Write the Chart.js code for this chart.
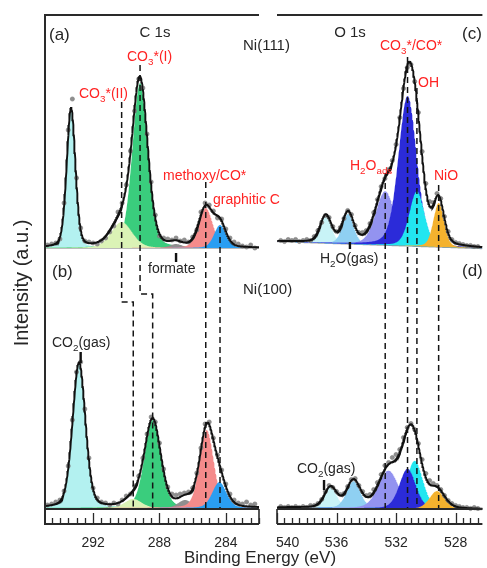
<!DOCTYPE html>
<html>
<head>
<meta charset="utf-8">
<script src="https://cdn.jsdelivr.net/npm/chart.js@4.4.1/dist/chart.umd.min.js"></script>
<style>
  html, body { margin: 0; padding: 0; background: #fff; }
  #wrap { position: relative; width: 487px; height: 568px; }
  #wrap canvas { position: absolute; left: 0; top: 0; }
</style>
</head>
<body>
<div id="wrap">
  <canvas id="c1s" width="487" height="568"></canvas>
  <canvas id="o1s" width="487" height="568"></canvas>
</div>
<script>
// ---------------- measured points ----------------
const energyC = [294.75, 294.5, 294.25, 294, 293.75, 293.5, 293.25, 293, 292.75, 292.5, 292.25, 292,
  291.75, 291.5, 291.25, 291, 290.75, 290.5, 290.25, 290, 289.75, 289.5, 289.25, 289, 288.75, 288.5,
  288.25, 288, 287.75, 287.5, 287.25, 287, 286.75, 286.5, 286.25, 286, 285.75, 285.5, 285.25, 285,
  284.75, 284.5, 284.25, 284, 283.75, 283.5, 283.25, 283, 282.75, 282.5, 282.25];
const measuredC111 = [3, 4, 5, 9, 45, 118, 149, 70, 20, 7, 6, 5, 4, 7, 10, 16, 22, 36, 45, 63, 97, 137,
  169, 160, 114, 66, 33, 12, 10, 9, 8, 10, 7, 8, 6, 11, 18, 36, 45, 43, 37, 30, 29, 19, 10, 6, 4, 2, 1, 3, 0];
const measuredC100 = [3, 4, 6, 8, 17, 42, 88, 136, 146, 99, 50, 20, 10, 6, 5, 3, 5, 4, 8, 12, 14, 22,
  32, 50, 74, 91, 86, 65, 39, 21, 14, 13, 14, 15, 16, 20, 35, 60, 84, 86, 70, 53, 38, 24, 14, 8, 5, 4, 6, 3, 4];

const energyO = [539.75, 539.5, 539.25, 539, 538.75, 538.5, 538.25, 538, 537.75, 537.5, 537.25, 537,
  536.75, 536.5, 536.25, 536, 535.75, 535.5, 535.25, 535, 534.75, 534.5, 534.25, 534, 533.75, 533.5,
  533.25, 533, 532.75, 532.5, 532.25, 532, 531.75, 531.5, 531.25, 531, 530.75, 530.5, 530.25, 530,
  529.75, 529.5, 529.25, 529, 528.75, 528.5, 528.25, 528, 527.75, 527.5, 527.25, 527, 526.75, 526.5];
const measuredO111 = [8, 7, 9, 8, 9, 7, 8, 9, 8, 12, 18, 26, 33, 31, 22, 17, 21, 30, 38, 34, 23, 16, 16,
  18, 25, 36, 49, 62, 70, 79, 88, 104, 131, 160, 181, 184, 167, 136, 97, 65, 47, 46, 55, 50, 32, 17, 9,
  6, 5, 4, 3, 3, 2, 2];
const measuredO100 = [3, 2, 3, 2, 3, 2, 3, 2, 4, 4, 6, 10, 18, 24, 22, 18, 15, 16, 23, 30, 31, 24, 18,
  14, 15, 20, 27, 35, 44, 47, 52, 55, 60, 72, 82, 86, 80, 66, 50, 36, 29, 26, 24, 20, 14, 9, 6, 4, 3, 2,
  2, 1, 2, 1];

// ---------------- fitted components (centre eV, height, FWHM eV) ----------------
const c1sNames   = ['CO2(gas)', 'CO3*(II)', 'CO3*(I)', 'formate', 'methoxy/CO*', 'graphitic C'];
const c111Center = [293.33, 290.28, 289.17, 287.0, 285.21, 284.35];
const c111Height = [139, 26, 165, 4, 40, 23];
const c111Fwhm   = [0.62, 1.5, 1.1, 0.9, 1.0, 0.85];
const c100Center = [292.85, 289.58, 288.41, 286.46, 285.15, 284.39];
const c100Height = [145, 9, 88, 8, 78, 26];
const c100Fwhm   = [0.92, 1.2, 1.15, 1.0, 1.0, 1.0];

const o1sNames   = ['H2O(gas)', 'H2O(gas)', 'H2Oads', 'CO3*/CO*', 'OH', 'NiO'];
const o111Center = [536.72, 535.23, 532.73, 531.23, 530.6, 529.14];
const o111Height = [27, 30, 54, 150, 55, 44];
const o111Fwhm   = [0.9, 0.9, 1.5, 1.45, 1.2, 0.85];
const o100Center = [536.4, 534.86, 532.51, 531.23, 530.75, 529.25];
const o100Height = [20.5, 27, 38, 40, 48, 18];
const o100Fwhm   = [1.0, 1.1, 1.6, 1.3, 1.3, 1.2];

// vertical stacking offsets and linear backgrounds [value at high BE, value at low BE]
const offsetC111 = 276, offsetC100 = 16, offsetO111 = 275.5, offsetO100 = 14.5;
const bgC111 = [0, 0], bgC100 = [0, 0], bgO111 = [7, 0], bgO100 = [2, 0];

// gas-phase / formate pointer marks (eV)
const markC = [287.0, 292.75];
const markO = [535.1, 536.84];

const ticksC = [292, 288, 284];
const ticksO = [540, 536, 532, 528];

// ---------------- styling ----------------
const INK = '#262626', RED = '#ff2323';
const FONT = '"Liberation Sans", Arial, Helvetica, sans-serif';
const c1sColors = ['#b3f1f0', '#dbf3b6', '#3acd7d', '#8f8f8f', '#f58b8b', '#2a9ef2'];
const c1sLayers = [19, 17, 18, 16, 15, 14];
const o1sColors = ['#c8f3f7', '#8fd0f2', '#9393f0', '#2b2bd9', '#22e6f0', '#f4b22e'];
const o111Layers = [19, 18, 17, 16, 15, 14];
const o100Layers = [19, 18, 17, 15, 16, 14];

// Gaussian–Lorentzian line shape
const GL_MIX = 0.25;
function profile(x, c, h, w) {
  const r = (x - c) / w;
  return h * ((1 - GL_MIX) * Math.exp(-4 * Math.LN2 * r * r) + GL_MIX / (1 + 4 * r * r));
}
function makeGrid(lo, hi, step) {
  const n = Math.round((hi - lo) / step), a = [];
  for (let i = 0; i <= n; i++) a.push(+(lo + i * step).toFixed(3));
  return a;
}

function addSpectrum(datasets, s) {
  const xs = makeGrid(s.lo, s.hi, 0.02);
  const bg = x => s.bg[1] + (s.bg[0] - s.bg[1]) * (x - s.lo) / (s.hi - s.lo);
  const baseIdx = datasets.length;
  datasets.push({
    data: xs.map(x => ({ x, y: s.offset + bg(x) })),
    borderColor: '#a5a5a5', borderWidth: 1.4, pointRadius: 0, fill: false, order: 30
  });
  s.center.forEach((c, k) => {
    datasets.push({
      label: s.names[k],
      data: xs.map(x => ({ x, y: s.offset + bg(x) + profile(x, c, s.height[k], s.fwhm[k]) })),
      borderColor: 'rgba(0,0,0,0)', borderWidth: 0, pointRadius: 0,
      backgroundColor: s.colors[k], fill: baseIdx, order: s.layers[k]
    });
  });
  datasets.push({
    data: s.energy.map((e, i) => ({ x: e, y: s.offset + s.measured[i] })),
    showLine: false, pointRadius: 2.1, pointBackgroundColor: '#8f8f8f',
    pointBorderColor: '#777', pointBorderWidth: 0.6, order: 6
  });
  datasets.push({
    data: xs.map(x => ({
      x, y: s.offset + bg(x) + s.center.reduce((t, c, k) => t + profile(x, c, s.height[k], s.fwhm[k]), 0)
    })),
    borderColor: '#111', borderWidth: 1.9, pointRadius: 0, fill: false, order: 5
  });
}
function guide(points) {
  return { data: points.map(([x, y]) => ({ x, y })), borderColor: '#151515', borderWidth: 1.5,
           borderDash: [6, 4], pointRadius: 0, fill: false, order: 2 };
}
function pointer(x, y0, y1) {
  return { data: [{ x, y: y0 }, { x, y: y1 }], borderColor: '#111', borderWidth: 2.4,
           pointRadius: 0, fill: false, order: 1 };
}

function drawRich(ctx, parts, x, y, size, color, align) {
  let w = 0;
  const segs = parts.map(([t, sub]) => {
    const s = sub ? size * 0.7 : size;
    ctx.font = `${s}px ${FONT}`;
    const m = ctx.measureText(t).width;
    w += m;
    return { t, s, m, dy: sub ? size * 0.3 : 0 };
  });
  let cx = align === 'center' ? x - w / 2 : x;
  ctx.fillStyle = color; ctx.textAlign = 'left'; ctx.textBaseline = 'alphabetic';
  segs.forEach(g => { ctx.font = `${g.s}px ${FONT}`; ctx.fillText(g.t, cx, y + g.dy); cx += g.m; });
}

// frame, tick strip, tick labels and annotations
const framePlugin = {
  id: 'frame',
  afterDraw(chart, args, o) {
    const { ctx, chartArea: a, scales: { x, y } } = chart;
    const stripTop = Math.round(y.getPixelForValue(15));
    ctx.save();
    ctx.strokeStyle = '#2a2a2a';
    ctx.lineCap = 'butt';
    const seg = (x0, y0, x1, y1, lw) => { ctx.lineWidth = lw; ctx.beginPath(); ctx.moveTo(x0, y0); ctx.lineTo(x1, y1); ctx.stroke(); };
    seg(a.left, a.top, a.right, a.top, 2);
    if (o.leftAxis) seg(a.left, a.top - 1, a.left, a.bottom + 1, 2);
    else seg(a.left, stripTop, a.left, a.bottom, 1.6);
    seg(a.left, a.bottom, a.right, a.bottom, 2);
    seg(a.left, stripTop, a.right, stripTop, 1.8);
    if (o.closeRight) seg(a.right, stripTop, a.right, a.bottom, 1.6);
    const lo = Math.ceil(x.min * 2) / 2;
    for (let v = lo; v <= x.max + 1e-6; v += 0.5) {
      const px = Math.round(x.getPixelForValue(v)) + 0.5;
      const major = Math.abs(v % 4) < 1e-6;
      seg(px, a.bottom, px, a.bottom - (major ? 11 : 6), 1.3);
    }
    ctx.fillStyle = INK;
    ctx.font = `14px ${FONT}`;
    ctx.textBaseline = 'alphabetic';
    o.tickLabels.forEach((v, i) => {
      const px = x.getPixelForValue(v);
      if (o.firstLeft && i === 0) { ctx.textAlign = 'left'; ctx.fillText(String(v), px - 1, 547); }
      else { ctx.textAlign = 'center'; ctx.fillText(String(v), px, 547); }
    });
    o.texts.forEach(t => drawRich(ctx, t.parts, t.x, t.y, t.size || 14, t.color || INK, t.align));
    if (o.axisTitles) {
      ctx.fillStyle = INK;
      ctx.font = `17px ${FONT}`;
      ctx.textAlign = 'center';
      ctx.fillText('Binding Energy (eV)', 260, 563);
      ctx.translate(22, 283);
      ctx.rotate(-Math.PI / 2);
      ctx.font = `20px ${FONT}`;
      ctx.textBaseline = 'middle';
      ctx.fillText('Intensity (a.u.)', 0, 0);
    }
    ctx.restore();
  }
};

function baseOptions(xmin, xmax, padding, frame) {
  return {
    responsive: false, animation: false, devicePixelRatio: 1, events: [],
    layout: { padding },
    elements: { line: { tension: 0 } },
    scales: {
      x: { type: 'linear', min: xmin, max: xmax, reverse: true, display: false },
      y: { type: 'linear', min: 0, max: 509, display: false }
    },
    plugins: { legend: { display: false }, tooltip: { enabled: false }, frame }
  };
}

// ---------------- C 1s panel ----------------
const dsC = [];
addSpectrum(dsC, { lo: 282, hi: 294.9, offset: offsetC111, bg: bgC111, names: c1sNames,
  center: c111Center, height: c111Height, fwhm: c111Fwhm, colors: c1sColors, layers: c1sLayers,
  energy: energyC, measured: measuredC111 });
addSpectrum(dsC, { lo: 282, hi: 294.9, offset: offsetC100, bg: bgC100, names: c1sNames,
  center: c100Center, height: c100Height, fwhm: c100Fwhm, colors: c1sColors, layers: c1sLayers,
  energy: energyC, measured: measuredC100 });
dsC.push(guide([[c111Center[1], 422], [c111Center[1], 222], [c100Center[1], 222], [c100Center[1], 15]]));
dsC.push(guide([[c111Center[2], 459], [c111Center[2], 230], [c100Center[2], 230], [c100Center[2], 15]]));
dsC.push(guide([[c111Center[4], 342], [c111Center[4], 15]]));
dsC.push(guide([[c111Center[5], 297], [c111Center[5], 15]]));
dsC.push(pointer(markC[0], 271, 262));
dsC.push(pointer(markC[1], 172, 161));

new Chart(document.getElementById('c1s'), {
  type: 'line',
  data: { datasets: dsC },
  options: baseOptions(282, 294.9, { left: 45, right: 228, top: 15, bottom: 44 }, {
    leftAxis: true, closeRight: true, tickLabels: ticksC, firstLeft: false, axisTitles: true,
    texts: [
      { parts: [['(a)']], x: 49, y: 40, size: 17 },
      { parts: [['(b)']], x: 52, y: 277, size: 17 },
      { parts: [['C 1s']], x: 155, y: 37, size: 15, align: 'center' },
      { parts: [['Ni(111)']], x: 243, y: 50, size: 15 },
      { parts: [['Ni(100)']], x: 243, y: 294, size: 15 },
      { parts: [['CO'], ['3', 1], ['*(I)']], x: 127, y: 61, color: RED },
      { parts: [['CO'], ['3', 1], ['*(II)']], x: 79, y: 98, color: RED },
      { parts: [['methoxy/CO*']], x: 163, y: 180, color: RED },
      { parts: [['graphitic C']], x: 213, y: 204, color: RED },
      { parts: [['formate']], x: 148, y: 273 },
      { parts: [['CO'], ['2', 1], ['(gas)']], x: 52, y: 347 }
    ]
  }),
  plugins: [framePlugin]
});

// ---------------- O 1s panel ----------------
const dsO = [];
addSpectrum(dsO, { lo: 526.2, hi: 540, offset: offsetO111, bg: bgO111, names: o1sNames,
  center: o111Center, height: o111Height, fwhm: o111Fwhm, colors: o1sColors, layers: o111Layers,
  energy: energyO, measured: measuredO111 });
addSpectrum(dsO, { lo: 526.2, hi: 540, offset: offsetO100, bg: bgO100, names: o1sNames,
  center: o100Center, height: o100Height, fwhm: o100Fwhm, colors: o1sColors, layers: o100Layers,
  energy: energyO, measured: measuredO100 });
dsO.push(guide([[o111Center[2], 351], [o111Center[2], 15]]));
dsO.push(guide([[o111Center[3], 467], [o111Center[3], 15]]));
dsO.push(guide([[o111Center[4], 436], [o111Center[4], 15]]));
dsO.push(guide([[o111Center[5], 339], [o111Center[5], 15]]));
dsO.push(pointer(markO[0], 282, 275));
dsO.push(pointer(markO[1], 44, 34));

new Chart(document.getElementById('o1s'), {
  type: 'line',
  data: { datasets: dsO },
  options: baseOptions(526.2, 540, { left: 277, right: 0, top: 15, bottom: 44 }, {
    leftAxis: false, closeRight: false, tickLabels: ticksO, firstLeft: true, axisTitles: false,
    texts: [
      { parts: [['O 1s']], x: 350, y: 37, size: 15, align: 'center' },
      { parts: [['(c)']], x: 462, y: 39, size: 17 },
      { parts: [['(d)']], x: 462, y: 276, size: 17 },
      { parts: [['CO'], ['3', 1], ['*/CO*']], x: 380, y: 50, color: RED },
      { parts: [['OH']], x: 418, y: 87, color: RED },
      { parts: [['H'], ['2', 1], ['O'], ['ads', 1]], x: 350, y: 170, color: RED },
      { parts: [['NiO']], x: 434, y: 180, color: RED },
      { parts: [['H'], ['2', 1], ['O(gas)']], x: 320, y: 263 },
      { parts: [['CO'], ['2', 1], ['(gas)']], x: 297, y: 473 }
    ]
  }),
  plugins: [framePlugin]
});
</script>
</body>
</html>
